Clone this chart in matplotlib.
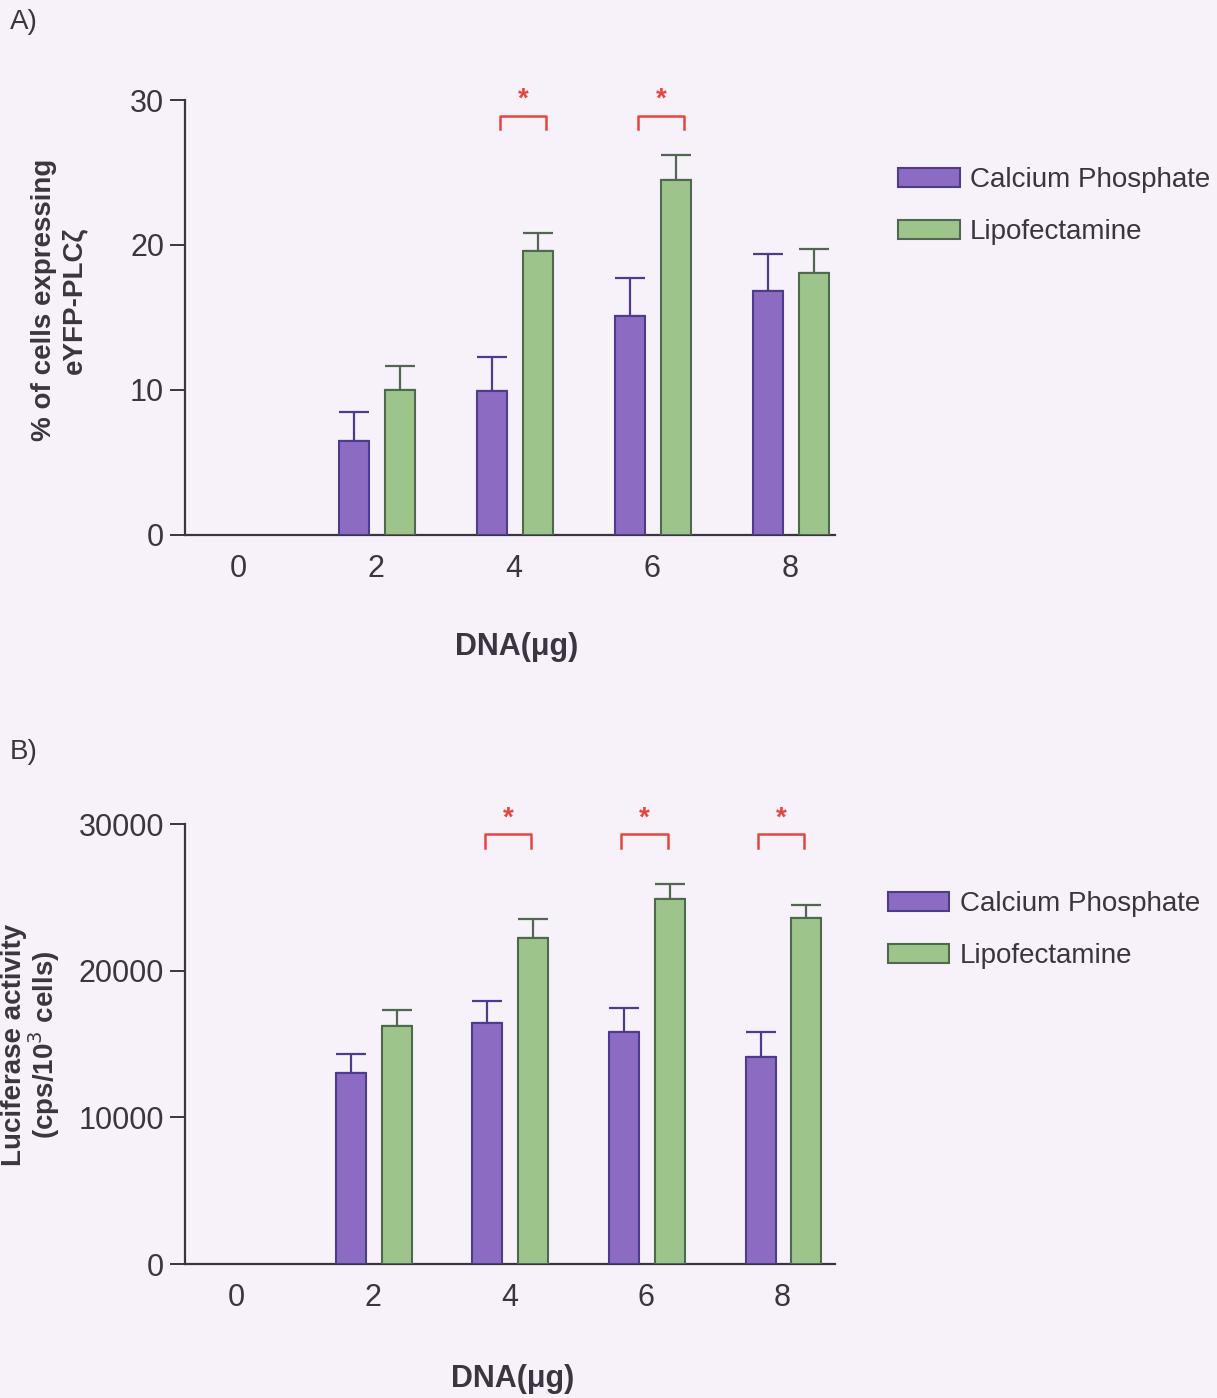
import numpy as np
import matplotlib
matplotlib.use("Agg")
import matplotlib.pyplot as plt

plt.rcParams['font.family'] = ['Liberation Sans', 'DejaVu Sans']

# DNA dose (ug)
doses = [0, 2, 4, 6, 8]
series_names = ["Calcium Phosphate", "Lipofectamine"]

# panel A: % of cells expressing eYFP-PLCzeta
a_cap = [0, 6.5, 9.9, 15.1, 16.8]
a_cap_err = [0, 2.0, 2.35, 2.6, 2.6]
a_lipo = [0, 10.0, 19.6, 24.5, 18.1]
a_lipo_err = [0, 1.65, 1.2, 1.7, 1.65]
a_sig = [4, 6]

# panel B: luciferase activity (cps/10^3 cells)
b_cap = [0, 13000, 16400, 15800, 14100]
b_cap_err = [0, 1300, 1550, 1650, 1750]
b_lipo = [0, 16200, 22200, 24900, 23600]
b_lipo_err = [0, 1150, 1300, 1000, 900]
b_sig = [4, 6, 8]

purple = '#8b6cc2'
purple_edge = '#4b3c8e'
green = '#9cc48b'
green_edge = '#50684f'
red = '#e8453f'
ink = '#3a3540'
bg = '#f7f1f9'

fig = plt.figure(figsize=(12.17, 13.98), dpi=100, facecolor=bg)
W, H = 1217, 1398


def px_axes(x0, y0, x1, y1):
    return fig.add_axes([x0 / W, 1 - y1 / H, (x1 - x0) / W, (y1 - y0) / H])


def draw_panel(ax, cap, cap_err, lipo, lipo_err, ymax, yticks, sig, br_lo, br_hi, star_y, br_off):
    x = np.array(doses, dtype=float)
    cap = np.array(cap, dtype=float)
    lipo = np.array(lipo, dtype=float)
    m = cap > 0
    w = 0.44
    ax.bar(x[m] - 0.32, cap[m], w, color=purple, edgecolor=purple_edge, lw=1.5,
           label=series_names[0], zorder=3)
    ax.bar(x[m] + 0.35, lipo[m], w, color=green, edgecolor=green_edge, lw=1.5,
           label=series_names[1], zorder=3)
    ce = np.array(cap_err)[m]
    le = np.array(lipo_err)[m]
    ax.errorbar(x[m] - 0.32, cap[m], yerr=[np.zeros_like(ce), ce], fmt='none',
                ecolor=purple_edge, elinewidth=1.6, capsize=11, capthick=1.6, zorder=2)
    ax.errorbar(x[m] + 0.35, lipo[m], yerr=[np.zeros_like(le), le], fmt='none',
                ecolor=green_edge, elinewidth=1.6, capsize=11, capthick=1.6, zorder=2)
    for s in sig:
        xl, xr = s + br_off[0], s + br_off[1]
        ax.plot([xl, xl, xr, xr], [br_lo, br_hi, br_hi, br_lo], color=red, lw=1.8,
                clip_on=False)
        ax.text((xl + xr) / 2, star_y, '*', color=red, ha='center', va='center',
                fontsize=20, fontweight='bold', clip_on=False)
    ax.set_facecolor('none')
    ax.set_ylim(0, ymax)
    ax.set_yticks(yticks)
    ax.set_xticks(doses)
    ax.set_xticklabels([str(d) for d in doses])
    for side in ['top', 'right']:
        ax.spines[side].set_visible(False)
    for side in ['left', 'bottom']:
        ax.spines[side].set_color(ink)
        ax.spines[side].set_linewidth(1.6)
    ax.tick_params(axis='y', length=11, width=1.4, color=ink, labelsize=22,
                   labelcolor=ink, pad=4)
    ax.tick_params(axis='x', length=0, labelsize=22, labelcolor=ink, pad=14)


# ---- panel A
axA = px_axes(185, 100, 835, 535)
draw_panel(axA, a_cap, a_cap_err, a_lipo, a_lipo_err, 30, [0, 10, 20, 30], a_sig,
           28.0, 28.9, 30.0, (-0.2, 0.46))
axA.set_xlim(-0.77, 8.65)
legA = axA.legend(loc='upper left', bbox_to_anchor=(898 / W, 1 - 167 / H),
                  bbox_transform=fig.transFigure, frameon=False, fontsize=20,
                  handlelength=2.25, handleheight=0.65, handletextpad=0.35,
                  labelspacing=0.95, borderpad=0, borderaxespad=0)
for t in legA.get_texts():
    t.set_color(ink)
fig.text(517 / W, 1 - 647 / H, 'DNA(\u03bcg)', ha='center', va='center',
         fontsize=22, fontweight='bold', color=ink)
fig.text(44 / W, 1 - 300 / H, '% of cells expressing', rotation=90, ha='center',
         va='center', fontsize=20, fontweight='bold', color=ink)
fig.text(74 / W, 1 - 300 / H, 'eYFP-PLC\u03b6', rotation=90, ha='center',
         va='center', fontsize=20, fontweight='bold', color=ink)
fig.text(10 / W, 1 - 22 / H, 'A)', ha='left', va='center', fontsize=20, color=ink)

# ---- panel B
axB = px_axes(185, 824, 835, 1264)
draw_panel(axB, b_cap, b_cap_err, b_lipo, b_lipo_err, 30000, [0, 10000, 20000, 30000],
           b_sig, 28350, 29300, 30400, (-0.36, 0.32))
axB.set_xlim(-0.75, 8.77)
legB = axB.legend(loc='upper left', bbox_to_anchor=(888 / W, 1 - 891 / H),
                  bbox_transform=fig.transFigure, frameon=False, fontsize=20,
                  handlelength=2.2, handleheight=0.65, handletextpad=0.4,
                  labelspacing=0.95, borderpad=0, borderaxespad=0)
for t in legB.get_texts():
    t.set_color(ink)
fig.text(513 / W, 1 - 1379 / H, 'DNA(\u03bcg)', ha='center', va='center',
         fontsize=22, fontweight='bold', color=ink)
fig.text(14 / W, 1 - 1045 / H, 'Luciferase activity', rotation=90, ha='center',
         va='center', fontsize=20, fontweight='bold', color=ink)
fig.text(44 / W, 1 - 1045 / H, '(cps/10$^{3}$ cells)', rotation=90, ha='center',
         va='center', fontsize=20, fontweight='bold', color=ink)
fig.text(10 / W, 1 - 752 / H, 'B)', ha='left', va='center', fontsize=20, color=ink)

fig.savefig('out.png', dpi=100, facecolor=bg)
